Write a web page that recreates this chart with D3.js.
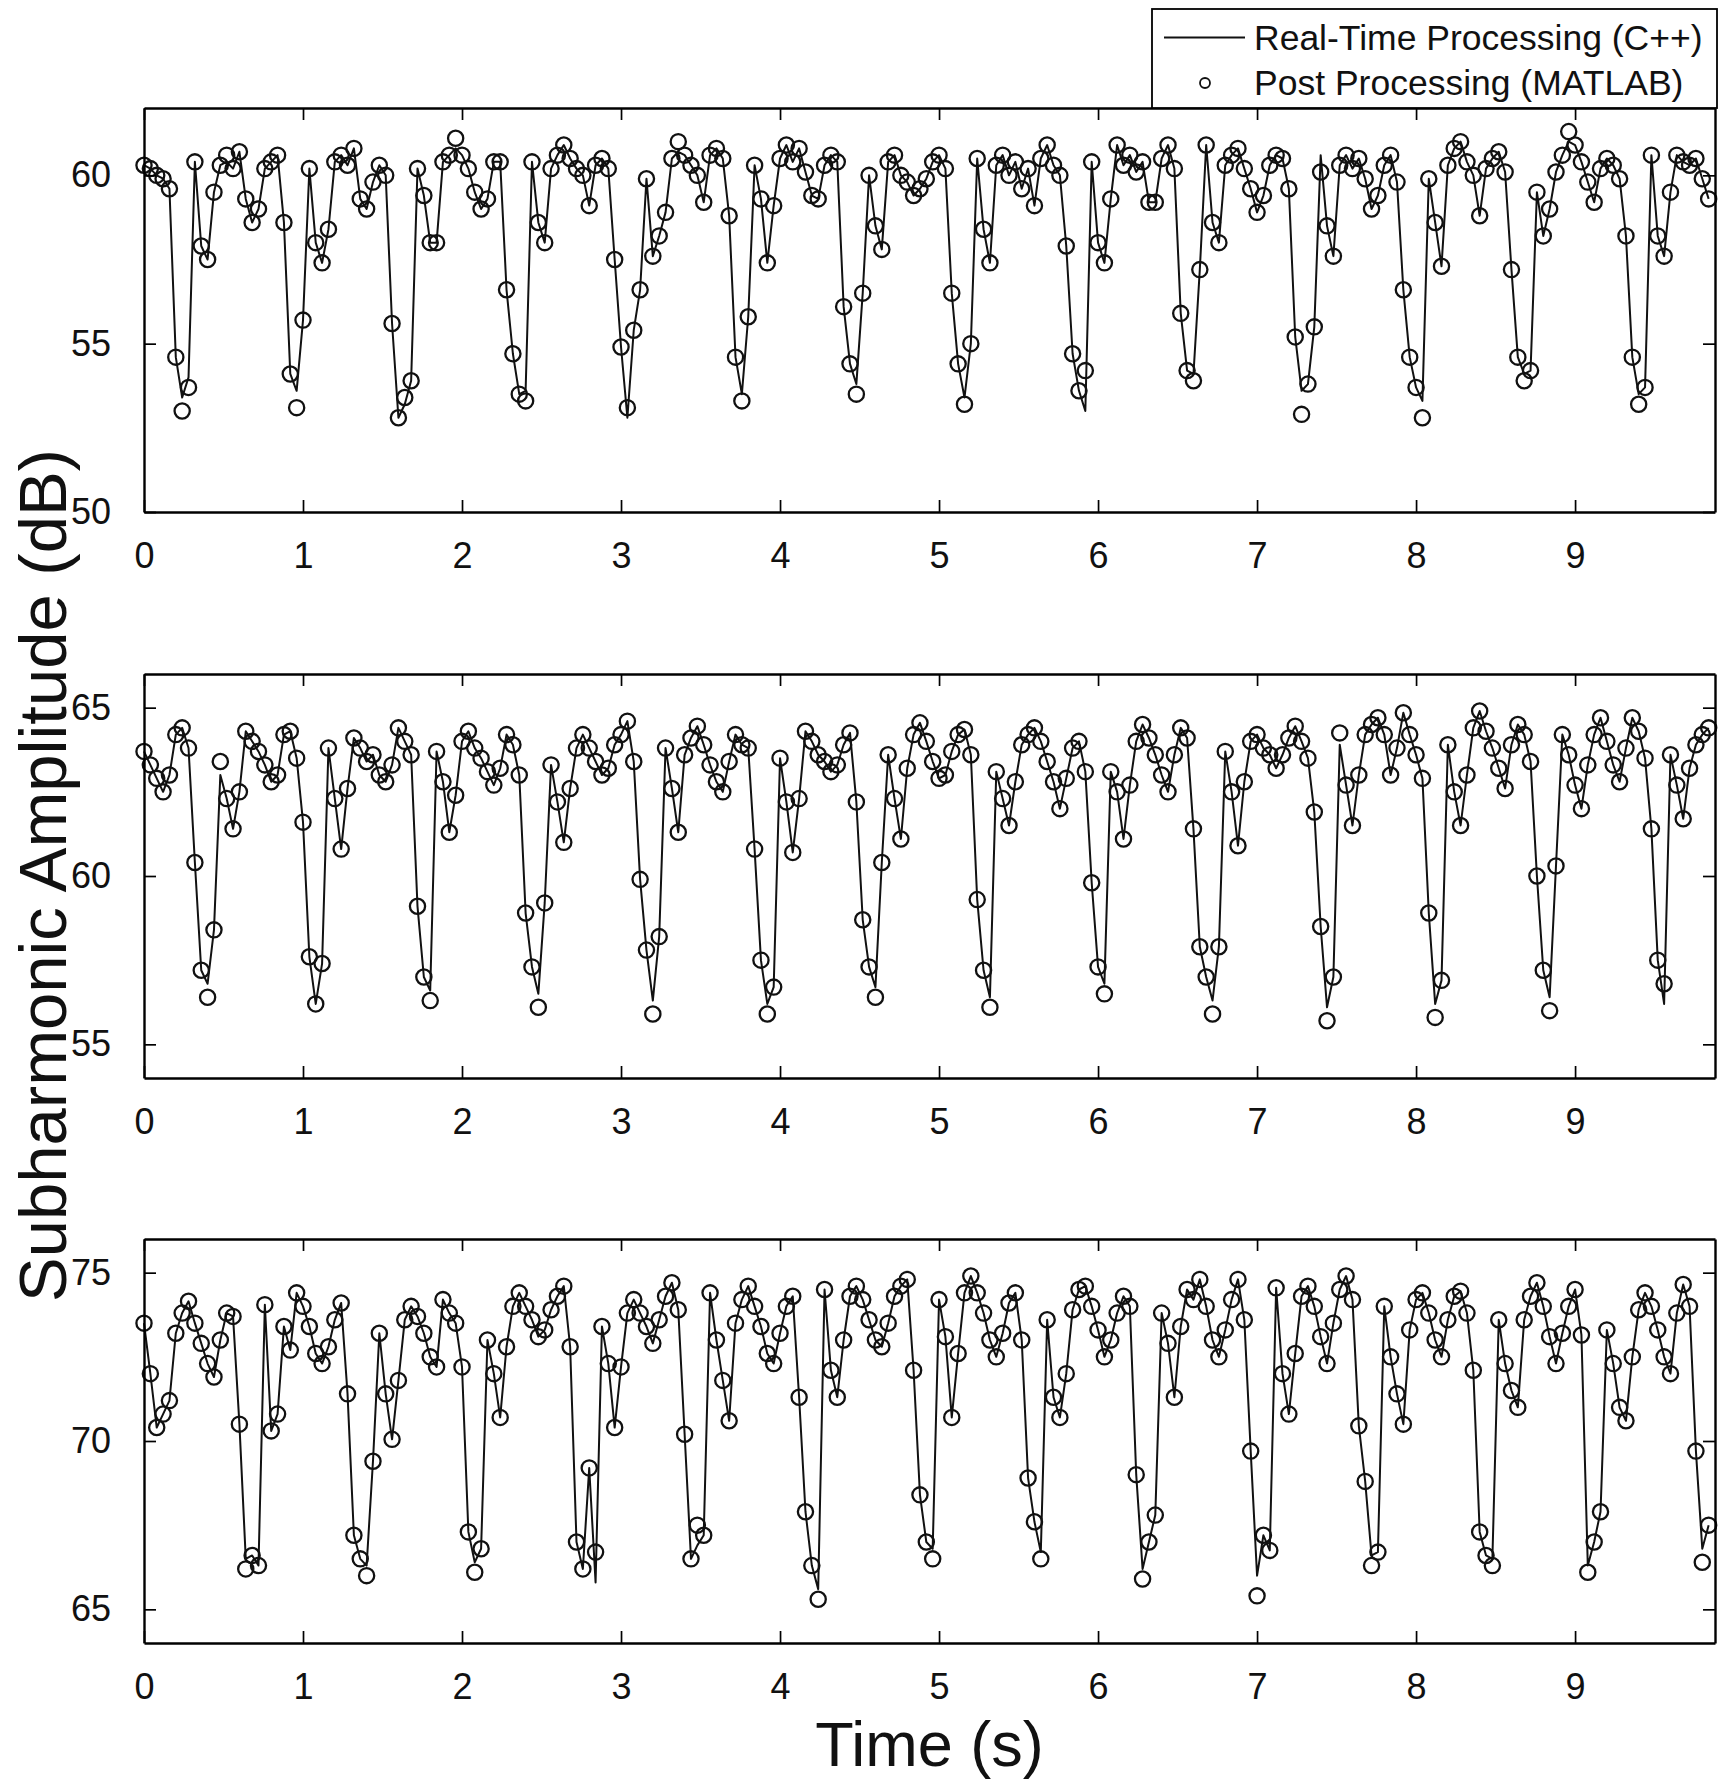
<!DOCTYPE html>
<html>
<head>
<meta charset="utf-8">
<script src="https://cdn.jsdelivr.net/npm/d3@7"></script>
<style>
  body { margin: 0; background: #fff; }
  svg { display: block; font-family: "Liberation Sans", Arial, Helvetica, sans-serif; }
</style>
</head>
<body>
<div id="chart"></div>
<script>

// sampling step of both processing chains (s)
var dt = 0.04;

var xTicks = [0, 1, 2, 3, 4, 5, 6, 7, 8, 9];

// ---- panel 1 ----
var yTicks1 = [50, 55, 60];
var post1 = [
  60.3, 60.2, 60.0, 59.9, 59.6, 54.6, 53.0, 53.7, 60.4, 57.9,
  57.5, 59.5, 60.3, 60.6, 60.2, 60.7, 59.3, 58.6, 59.0, 60.2,
  60.4, 60.6, 58.6, 54.1, 53.1, 55.7, 60.2, 58.0, 57.4, 58.4,
  60.4, 60.6, 60.3, 60.8, 59.3, 59.0, 59.8, 60.3, 60.0, 55.6,
  52.8, 53.4, 53.9, 60.2, 59.4, 58.0, 58.0, 60.4, 60.6, 61.1,
  60.6, 60.2, 59.5, 59.0, 59.3, 60.4, 60.4, 56.6, 54.7, 53.5,
  53.3, 60.4, 58.6, 58.0, 60.2, 60.6, 60.9, 60.5, 60.2, 60.0,
  59.1, 60.3, 60.5, 60.2, 57.5, 54.9, 53.1, 55.4, 56.6, 59.9,
  57.6, 58.2, 58.9, 60.5, 61.0, 60.6, 60.3, 60.0, 59.2, 60.6,
  60.8, 60.5, 58.8, 54.6, 53.3, 55.8, 60.3, 59.3, 57.4, 59.1,
  60.5, 60.9, 60.4, 60.8, 60.1, 59.4, 59.3, 60.3, 60.6, 60.4,
  56.1, 54.4, 53.5, 56.5, 60.0, 58.5, 57.8, 60.4, 60.6, 60.0,
  59.8, 59.4, 59.6, 59.9, 60.4, 60.6, 60.2, 56.5, 54.4, 53.2,
  55.0, 60.5, 58.4, 57.4, 60.3, 60.6, 60.0, 60.4, 59.6, 60.2,
  59.1, 60.5, 60.9, 60.3, 60.0, 57.9, 54.7, 53.6, 54.2, 60.4,
  58.0, 57.4, 59.3, 60.9, 60.3, 60.6, 60.1, 60.4, 59.2, 59.2,
  60.5, 60.9, 60.2, 55.9, 54.2, 53.9, 57.2, 60.9, 58.6, 58.0,
  60.3, 60.6, 60.8, 60.2, 59.6, 58.9, 59.4, 60.3, 60.6, 60.5,
  59.6, 55.2, 52.9, 53.8, 55.5, 60.1, 58.5, 57.6, 60.3, 60.6,
  60.2, 60.5, 59.9, 59.0, 59.4, 60.3, 60.6, 59.8, 56.6, 54.6,
  53.7, 52.8, 59.9, 58.6, 57.3, 60.3, 60.8, 61.0, 60.4, 60.0,
  58.8, 60.2, 60.5, 60.7, 60.1, 57.2, 54.6, 53.9, 54.2, 59.5,
  58.2, 59.0, 60.1, 60.6, 61.3, 60.9, 60.4, 59.8, 59.2, 60.2,
  60.5, 60.3, 59.9, 58.2, 54.6, 53.2, 53.7, 60.6, 58.2, 57.6,
  59.5, 60.6, 60.4, 60.3, 60.5, 59.9, 59.3
];
var real1 = [
  60.3, 60.2, 60.0, 59.9, 59.6, 54.6, 53.4, 54.0, 60.4, 57.9,
  57.5, 59.5, 60.3, 60.4, 60.2, 60.7, 59.3, 58.6, 59.0, 60.2,
  60.4, 60.6, 58.6, 54.1, 53.6, 55.7, 60.2, 58.0, 57.4, 58.4,
  60.4, 60.6, 60.3, 60.8, 59.3, 59.0, 59.8, 60.3, 60.0, 55.6,
  52.8, 53.2, 53.9, 60.2, 59.4, 58.0, 58.0, 60.4, 60.6, 60.8,
  60.6, 60.2, 59.5, 59.0, 59.3, 60.4, 60.4, 56.6, 54.7, 53.5,
  53.6, 60.4, 58.6, 58.0, 60.2, 60.6, 60.9, 60.5, 60.2, 60.0,
  59.1, 60.3, 60.5, 60.2, 57.5, 54.9, 52.8, 55.4, 56.6, 59.9,
  57.6, 58.2, 58.9, 60.5, 60.7, 60.6, 60.3, 60.0, 59.2, 60.6,
  60.8, 60.5, 58.8, 54.6, 53.5, 55.8, 60.3, 59.3, 57.4, 59.1,
  60.5, 60.9, 60.4, 60.8, 60.1, 59.4, 59.3, 60.3, 60.6, 60.4,
  56.1, 54.4, 53.8, 56.5, 60.0, 58.5, 57.8, 60.4, 60.6, 60.0,
  59.8, 59.4, 59.6, 59.9, 60.4, 60.6, 60.2, 56.5, 54.4, 53.4,
  55.0, 60.5, 58.4, 57.4, 60.3, 60.6, 60.0, 60.4, 59.6, 60.2,
  59.1, 60.5, 60.9, 60.3, 60.0, 57.9, 54.7, 53.6, 53.0, 60.4,
  58.0, 57.4, 59.3, 60.9, 60.3, 60.6, 60.1, 60.4, 59.2, 59.2,
  60.5, 60.9, 60.2, 55.9, 54.2, 54.1, 57.2, 60.9, 58.6, 58.0,
  60.3, 60.6, 60.8, 60.2, 59.6, 58.9, 59.4, 60.3, 60.6, 60.5,
  59.6, 55.2, 53.6, 53.8, 55.5, 60.6, 58.5, 57.6, 60.3, 60.6,
  60.2, 60.5, 59.9, 59.0, 59.4, 60.3, 60.6, 59.8, 56.6, 54.6,
  53.7, 53.3, 59.9, 58.6, 57.3, 60.3, 60.8, 61.0, 60.4, 60.0,
  58.8, 60.2, 60.5, 60.7, 60.1, 57.2, 54.6, 54.1, 54.2, 59.5,
  58.2, 59.0, 60.1, 60.6, 61.0, 60.9, 60.4, 59.8, 59.2, 60.2,
  60.5, 60.3, 59.9, 58.2, 54.6, 53.5, 53.7, 60.6, 58.2, 57.6,
  59.5, 60.6, 60.4, 60.3, 60.5, 59.9, 59.3
];

// ---- panel 2 ----
var yTicks2 = [55, 60, 65];
var post2 = [
  63.7, 63.3, 62.9, 62.5, 63.0, 64.2, 64.4, 63.8, 60.4, 57.2,
  56.4, 58.4, 63.4, 62.3, 61.4, 62.5, 64.3, 64.0, 63.7, 63.3,
  62.8, 63.0, 64.2, 64.3, 63.5, 61.6, 57.6, 56.2, 57.4, 63.8,
  62.3, 60.8, 62.6, 64.1, 63.8, 63.4, 63.6, 63.0, 62.8, 63.3,
  64.4, 64.0, 63.6, 59.1, 57.0, 56.3, 63.7, 62.8, 61.3, 62.4,
  64.0, 64.3, 63.8, 63.5, 63.1, 62.7, 63.2, 64.2, 63.9, 63.0,
  58.9, 57.3, 56.1, 59.2, 63.3, 62.2, 61.0, 62.6, 63.8, 64.2,
  63.8, 63.4, 63.0, 63.2, 63.9, 64.2, 64.6, 63.4, 59.9, 57.8,
  55.9, 58.2, 63.8, 62.6, 61.3, 63.6, 64.1, 64.45, 63.9, 63.3,
  62.8, 62.5, 63.4, 64.2, 63.9, 63.8, 60.8, 57.5, 55.9, 56.7,
  63.5, 62.2, 60.7, 62.3, 64.3, 64.0, 63.6, 63.4, 63.1, 63.3,
  63.9, 64.25, 62.2, 58.7, 57.3, 56.4, 60.4, 63.6, 62.3, 61.1,
  63.2, 64.2, 64.55, 64.0, 63.4, 62.9, 63.0, 63.7, 64.2, 64.35,
  63.6, 59.3, 57.2, 56.1, 63.1, 62.3, 61.5, 62.8, 63.9, 64.2,
  64.4, 64.0, 63.4, 62.8, 62.0, 62.9, 63.8, 64.0, 63.1, 59.8,
  57.3, 56.5, 63.1, 62.5, 61.1, 62.7, 64.0, 64.5, 64.1, 63.6,
  63.0, 62.5, 63.6, 64.4, 64.1, 61.4, 57.9, 57.0, 55.9, 57.9,
  63.7, 62.5, 60.9, 62.8, 64.0, 64.2, 63.8, 63.6, 63.2, 63.6,
  64.1, 64.45, 64.0, 63.5, 61.9, 58.5, 55.7, 57.0, 64.25, 62.7,
  61.5, 63.0, 64.2, 64.5, 64.7, 64.2, 63.0, 63.8, 64.85, 64.2,
  63.6, 62.9, 58.9, 55.8, 56.9, 63.9, 62.5, 61.5, 63.0, 64.4,
  64.9, 64.3, 63.8, 63.2, 62.6, 63.9, 64.5, 64.2, 63.4, 60.0,
  57.2, 56.0, 60.3, 64.2, 63.6, 62.7, 62.0, 63.3, 64.2, 64.7,
  64.0, 63.3, 62.8, 63.8, 64.7, 64.3, 63.5, 61.4, 57.5, 56.8,
  63.6, 62.7, 61.7, 63.2, 63.9, 64.2, 64.4
];
var real2 = [
  63.7, 63.3, 62.9, 62.5, 63.0, 64.2, 64.4, 63.8, 60.4, 57.2,
  56.8, 58.4, 63.0, 62.3, 61.4, 62.5, 64.3, 64.0, 63.7, 63.3,
  62.8, 63.0, 64.2, 64.3, 63.5, 61.6, 57.6, 56.2, 57.4, 63.8,
  62.3, 60.8, 62.6, 64.1, 63.8, 63.4, 63.6, 63.0, 62.8, 63.3,
  64.4, 64.0, 63.6, 59.1, 57.0, 56.6, 63.7, 62.8, 61.3, 62.4,
  64.0, 64.3, 63.8, 63.5, 63.1, 62.7, 63.2, 64.2, 63.9, 63.0,
  58.9, 57.3, 56.5, 59.2, 63.3, 62.2, 61.0, 62.6, 63.8, 64.2,
  63.8, 63.4, 63.0, 63.2, 63.9, 64.2, 64.6, 63.4, 59.9, 57.8,
  56.3, 58.2, 63.8, 62.6, 61.3, 63.6, 64.1, 64.45, 63.9, 63.3,
  62.8, 62.5, 63.4, 64.2, 63.9, 63.8, 60.8, 57.5, 56.2, 56.7,
  63.5, 62.2, 60.7, 62.3, 64.3, 64.0, 63.6, 63.4, 63.1, 63.3,
  63.9, 64.25, 62.2, 58.7, 57.3, 56.7, 60.4, 63.6, 62.3, 61.1,
  63.2, 64.2, 64.55, 64.0, 63.4, 62.9, 63.0, 63.7, 64.2, 64.35,
  63.6, 59.3, 57.2, 56.4, 63.1, 62.3, 61.5, 62.8, 63.9, 64.2,
  64.4, 64.0, 63.4, 62.8, 62.0, 62.9, 63.8, 64.0, 63.1, 59.8,
  57.3, 56.8, 63.1, 62.5, 61.1, 62.7, 64.0, 64.5, 64.1, 63.6,
  63.0, 62.5, 63.6, 64.4, 64.1, 61.4, 57.9, 57.0, 56.3, 57.9,
  63.7, 62.5, 60.9, 62.8, 64.0, 64.2, 63.8, 63.6, 63.2, 63.6,
  64.1, 64.45, 64.0, 63.5, 61.9, 58.5, 56.1, 57.0, 63.9, 62.7,
  61.5, 63.0, 64.2, 64.5, 64.7, 64.2, 63.0, 63.8, 64.85, 64.2,
  63.6, 62.9, 58.9, 56.2, 56.9, 63.9, 62.5, 61.5, 63.0, 64.4,
  64.9, 64.3, 63.8, 63.2, 62.6, 63.9, 64.5, 64.2, 63.4, 60.0,
  57.2, 56.4, 60.3, 64.2, 63.6, 62.7, 62.0, 63.3, 64.2, 64.7,
  64.0, 63.3, 62.8, 63.8, 64.7, 64.3, 63.5, 61.4, 57.5, 56.2,
  63.6, 62.7, 61.7, 63.2, 63.9, 64.2, 64.4
];

// ---- panel 3 ----
var yTicks3 = [65, 70, 75];
var post3 = [
  73.5, 72.0, 70.4, 70.8, 71.2, 73.2, 73.8, 74.15, 73.5, 72.9,
  72.3, 71.9, 73.0, 73.8, 73.7, 70.5, 66.2, 66.6, 66.3, 74.05,
  70.3, 70.8, 73.4, 72.7, 74.4, 74.0, 73.4, 72.6, 72.3, 72.8,
  73.6, 74.1, 71.4, 67.2, 66.5, 66.0, 69.4, 73.2, 71.4, 70.05,
  71.8, 73.6, 74.0, 73.7, 73.2, 72.5, 72.2, 74.2, 73.8, 73.5,
  72.2, 67.3, 66.1, 66.8, 73.0, 72.0, 70.7, 72.8, 74.0, 74.4,
  74.0, 73.6, 73.1, 73.3, 73.9, 74.3, 74.6, 72.8, 67.0, 66.2,
  69.2, 66.7, 73.4, 72.3, 70.4, 72.2, 73.8, 74.2, 73.8, 73.4,
  72.9, 73.6, 74.3, 74.7, 73.9, 70.2, 66.5, 67.5, 67.2, 74.4,
  73.0, 71.8, 70.6, 73.5, 74.2, 74.6, 74.0, 73.4, 72.6, 72.3,
  73.2, 74.0, 74.3, 71.3, 67.9, 66.3, 65.3, 74.5, 72.1, 71.3,
  73.0, 74.3, 74.6, 74.2, 73.6, 73.0, 72.8, 73.5, 74.3, 74.6,
  74.8, 72.1, 68.4, 67.0, 66.5, 74.2, 73.1, 70.7, 72.6, 74.4,
  74.9, 74.4, 73.8, 73.0, 72.5, 73.2, 74.1, 74.4, 73.0, 68.9,
  67.6, 66.5, 73.6, 71.3, 70.7, 72.0, 73.9, 74.5, 74.6, 74.0,
  73.3, 72.5, 73.0, 73.8, 74.3, 74.0, 69.0, 65.9, 67.0, 67.8,
  73.8, 72.9, 71.3, 73.4, 74.5, 74.2, 74.8, 74.0, 73.0, 72.5,
  73.3, 74.2, 74.8, 73.6, 69.7, 65.4, 67.2, 66.75, 74.55, 72.0,
  70.8, 72.6, 74.3, 74.6, 74.0, 73.1, 72.3, 73.5, 74.5, 74.9,
  74.2, 70.45, 68.8, 66.3, 66.7, 74.0, 72.5, 71.4, 70.5, 73.3,
  74.2, 74.4, 73.8, 73.0, 72.5, 73.6, 74.3, 74.45, 73.8, 72.1,
  67.3, 66.6, 66.3, 73.6, 72.3, 71.5, 71.0, 73.6, 74.3, 74.7,
  74.0, 73.1, 72.3, 73.2, 74.0, 74.5, 73.15, 66.1, 67.0, 67.9,
  73.3, 72.3, 71.0, 70.6, 72.5, 73.9, 74.4, 74.0, 73.3, 72.5,
  72.0, 73.8, 74.65, 74.0, 69.7, 66.4, 67.5
];
var real3 = [
  73.5, 72.0, 70.4, 70.8, 71.2, 73.2, 73.8, 74.15, 73.5, 72.9,
  72.3, 71.9, 73.0, 73.8, 73.7, 70.5, 66.5, 66.6, 66.3, 74.05,
  70.3, 70.8, 73.4, 72.7, 74.4, 74.0, 73.4, 72.6, 72.3, 72.8,
  73.6, 74.1, 71.4, 67.2, 66.5, 66.3, 69.4, 73.2, 71.4, 70.05,
  71.8, 73.6, 74.0, 73.7, 73.2, 72.5, 72.2, 74.2, 73.8, 73.5,
  72.2, 67.3, 66.4, 66.8, 73.0, 72.0, 70.7, 72.8, 74.0, 74.4,
  74.0, 73.6, 73.1, 73.3, 73.9, 74.3, 74.6, 72.8, 67.0, 66.2,
  69.2, 65.8, 73.4, 72.3, 70.4, 72.2, 73.8, 74.2, 73.8, 73.4,
  72.9, 73.6, 74.3, 74.7, 73.9, 70.2, 66.5, 66.9, 67.2, 74.4,
  73.0, 71.8, 70.6, 73.5, 74.2, 74.6, 74.0, 73.4, 72.6, 72.3,
  73.2, 74.0, 74.3, 71.3, 67.9, 66.3, 65.6, 74.5, 72.1, 71.3,
  73.0, 74.3, 74.6, 74.2, 73.6, 73.0, 72.8, 73.5, 74.3, 74.6,
  74.8, 72.1, 68.4, 67.0, 66.8, 74.2, 73.1, 70.7, 72.6, 74.4,
  74.9, 74.4, 73.8, 73.0, 72.5, 73.2, 74.1, 74.4, 73.0, 68.9,
  67.6, 66.7, 73.6, 71.3, 70.7, 72.0, 73.9, 74.5, 74.6, 74.0,
  73.3, 72.5, 73.0, 73.8, 74.3, 74.0, 69.0, 66.2, 67.0, 67.8,
  73.8, 72.9, 71.3, 73.4, 74.5, 74.2, 74.8, 74.0, 73.0, 72.5,
  73.3, 74.2, 74.8, 73.6, 69.7, 66.0, 67.2, 66.75, 74.55, 72.0,
  70.8, 72.6, 74.3, 74.6, 74.0, 73.1, 72.3, 73.5, 74.5, 74.9,
  74.2, 70.45, 68.8, 66.6, 66.7, 74.0, 72.5, 71.4, 70.5, 73.3,
  74.2, 74.4, 73.8, 73.0, 72.5, 73.6, 74.3, 74.45, 73.8, 72.1,
  67.3, 66.6, 66.5, 73.6, 72.3, 71.5, 71.0, 73.6, 74.3, 74.7,
  74.0, 73.1, 72.3, 73.2, 74.0, 74.5, 73.15, 66.3, 67.0, 67.9,
  73.3, 72.3, 71.0, 70.6, 72.5, 73.9, 74.4, 74.0, 73.3, 72.5,
  72.0, 73.8, 74.65, 74.0, 69.7, 66.8, 67.5
];

var legendLabels = ["Real-Time Processing (C++)", "Post Processing (MATLAB)"];

var panels = [
  {real: real1, post: post1, domain: [50, 62], ticks: yTicks1},
  {real: real2, post: post2, domain: [54, 66], ticks: yTicks2},
  {real: real3, post: post3, domain: [64, 76], ticks: yTicks3}
];

var W = 1719, H = 1785;
var plotLeft = 144, plotRight = 1715, plotH = 404;
var panelTops = [108, 674, 1239];

var svg = d3.select("#chart").append("svg")
    .attr("width", W)
    .attr("height", H);

svg.append("rect").attr("width", W).attr("height", H).attr("fill", "#fff");

var x = d3.scaleLinear().domain([0, 9.88]).range([plotLeft, plotRight]);

function styleAxis(sel){
  sel.select(".domain").attr("stroke", "#000").attr("stroke-width", 2.4);
  sel.selectAll(".tick line").attr("stroke", "#000").attr("stroke-width", 1.7);
  sel.selectAll(".tick text").attr("fill", "#111").style("font-size", "36px");
}

panels.forEach(function(p, k){
  var top = panelTops[k];
  var bottom = top + plotH;
  var y = d3.scaleLinear().domain(p.domain).range([bottom, top]);
  var g = svg.append("g").attr("class", "panel");

  // data
  var line = d3.line()
      .x(function(d, i){ return x(i * dt); })
      .y(function(d){ return y(d); });

  g.append("path")
      .datum(p.real)
      .attr("d", line)
      .attr("fill", "none")
      .attr("stroke", "#111")
      .attr("stroke-width", 2)
      .attr("stroke-linejoin", "round");

  g.selectAll("circle.pp")
      .data(p.post)
      .enter()
      .append("circle")
      .attr("class", "pp")
      .attr("cx", function(d, i){ return x(i * dt); })
      .attr("cy", function(d){ return y(d); })
      .attr("r", 7.6)
      .attr("fill", "none")
      .attr("stroke", "#111")
      .attr("stroke-width", 2.3);

  // box axes, ticks pointing inward
  g.append("g")
      .attr("transform", "translate(0," + bottom + ")")
      .call(d3.axisBottom(x).tickValues(xTicks).tickFormat(d3.format("d"))
            .tickSizeInner(-12).tickSizeOuter(0).tickPadding(30))
      .call(styleAxis);

  g.append("g")
      .attr("transform", "translate(0," + top + ")")
      .call(d3.axisTop(x).tickValues(xTicks).tickFormat("")
            .tickSizeInner(-12).tickSizeOuter(0))
      .call(styleAxis);

  g.append("g")
      .attr("transform", "translate(" + plotLeft + ",0)")
      .call(d3.axisLeft(y).tickValues(p.ticks).tickFormat(d3.format("d"))
            .tickSizeInner(-12).tickSizeOuter(0).tickPadding(33))
      .call(styleAxis);

  g.append("g")
      .attr("transform", "translate(" + plotRight + ",0)")
      .call(d3.axisRight(y).tickValues(p.ticks).tickFormat("")
            .tickSizeInner(-12).tickSizeOuter(0))
      .call(styleAxis);
});

// axis titles
svg.append("text")
    .attr("transform", "translate(42," + ((panelTops[0] + panelTops[2] + plotH) / 2) + ") rotate(-90)")
    .attr("text-anchor", "middle")
    .attr("dominant-baseline", "central")
    .attr("fill", "#111")
    .style("font-size", "67px")
    .text("Subharmonic Amplitude (dB)");

svg.append("text")
    .attr("x", (plotLeft + plotRight) / 2)
    .attr("y", 1766)
    .attr("text-anchor", "middle")
    .attr("fill", "#111")
    .style("font-size", "63px")
    .text("Time (s)");

// legend
var leg = svg.append("g").attr("class", "legend");
leg.append("rect")
    .attr("x", 1152).attr("y", 9)
    .attr("width", 565).attr("height", 99)
    .attr("fill", "#fff")
    .attr("stroke", "#000")
    .attr("stroke-width", 1.8);

leg.append("line")
    .attr("x1", 1164).attr("x2", 1245)
    .attr("y1", 37.5).attr("y2", 37.5)
    .attr("stroke", "#111").attr("stroke-width", 2);

leg.append("circle")
    .attr("cx", 1205).attr("cy", 83)
    .attr("r", 5)
    .attr("fill", "none").attr("stroke", "#111").attr("stroke-width", 1.8);

leg.selectAll("text")
    .data(legendLabels)
    .enter()
    .append("text")
    .attr("x", 1254)
    .attr("y", function(d, i){ return 37.5 + i * 45.5; })
    .attr("dominant-baseline", "central")
    .attr("fill", "#111")
    .style("font-size", "35.5px")
    .text(function(d){ return d; });

</script>
</body>
</html>
